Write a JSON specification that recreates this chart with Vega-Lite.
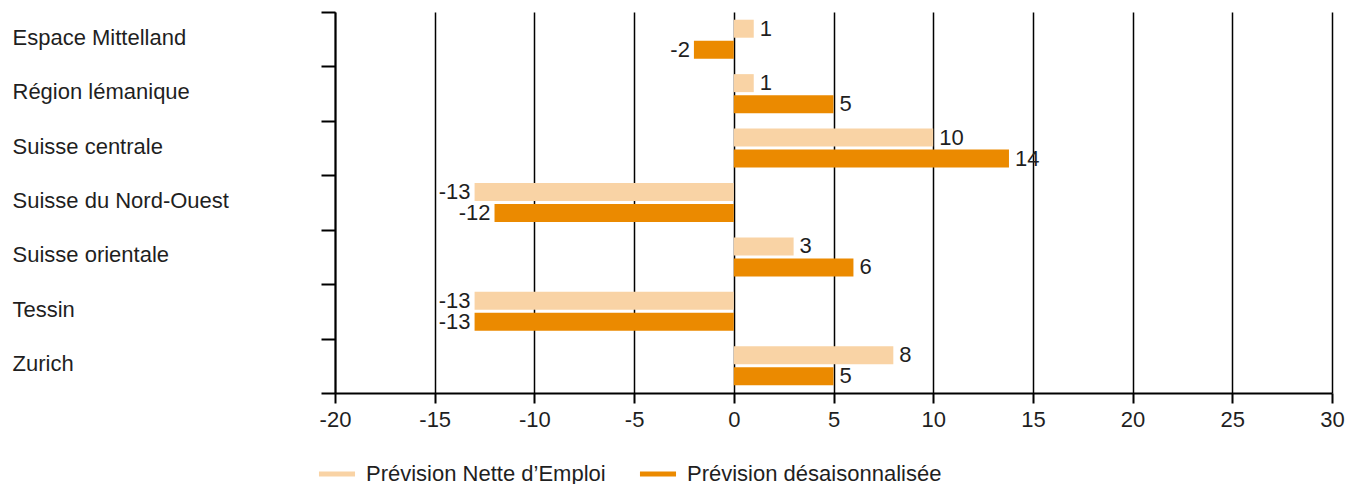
{
  "$schema": "https://vega.github.io/schema/vega-lite/v6.json",
  "width": 997,
  "height": 381,
  "autosize": {"type": "none"},
  "padding": {"left": 335, "top": 12, "right": 16, "bottom": 91},
  "background": "white",
  "config": {
    "font": "Liberation Sans",
    "view": {"stroke": null}
  },
  "data": {
    "values": [
      {"region": "Espace Mittelland", "series": "Prévision Nette d’Emploi", "value": 1, "label": "1"},
      {"region": "Espace Mittelland", "series": "Prévision désaisonnalisée", "value": -2, "label": "-2"},
      {"region": "Région lémanique", "series": "Prévision Nette d’Emploi", "value": 1, "label": "1"},
      {"region": "Région lémanique", "series": "Prévision désaisonnalisée", "value": 5, "label": "5"},
      {"region": "Suisse centrale", "series": "Prévision Nette d’Emploi", "value": 10, "label": "10"},
      {"region": "Suisse centrale", "series": "Prévision désaisonnalisée", "value": 13.8, "label": "14"},
      {"region": "Suisse du Nord-Ouest", "series": "Prévision Nette d’Emploi", "value": -13, "label": "-13"},
      {"region": "Suisse du Nord-Ouest", "series": "Prévision désaisonnalisée", "value": -12, "label": "-12"},
      {"region": "Suisse orientale", "series": "Prévision Nette d’Emploi", "value": 3, "label": "3"},
      {"region": "Suisse orientale", "series": "Prévision désaisonnalisée", "value": 6, "label": "6"},
      {"region": "Tessin", "series": "Prévision Nette d’Emploi", "value": -13, "label": "-13"},
      {"region": "Tessin", "series": "Prévision désaisonnalisée", "value": -13, "label": "-13"},
      {"region": "Zurich", "series": "Prévision Nette d’Emploi", "value": 8, "label": "8"},
      {"region": "Zurich", "series": "Prévision désaisonnalisée", "value": 5, "label": "5"}
    ]
  },
  "encoding": {
    "y": {
      "field": "region",
      "type": "nominal",
      "sort": null,
      "scale": {"paddingInner": 0, "paddingOuter": 0},
      "axis": {
        "title": null,
        "tickBand": "extent",
        "tickSize": 14,
        "tickWidth": 2,
        "tickColor": "black",
        "domainColor": "black",
        "domainWidth": 2,
        "labelAlign": "left",
        "labelPadding": 309,
        "labelOffset": -2,
        "labelFontSize": 22,
        "labelColor": "#1f1f1f",
        "labelLimit": 320
      }
    },
    "yOffset": {
      "field": "series",
      "type": "nominal",
      "sort": ["Prévision Nette d’Emploi", "Prévision désaisonnalisée"],
      "scale": {"paddingInner": 0.143, "paddingOuter": 0.367}
    },
    "x": {
      "field": "value",
      "type": "quantitative",
      "scale": {"domain": [-20, 30], "nice": false, "zero": false},
      "axis": {
        "title": null,
        "values": [-20, -15, -10, -5, 0, 5, 10, 15, 20, 25, 30],
        "labelExpr": "toString(datum.value)",
        "grid": true,
        "gridColor": "black",
        "gridWidth": 1.5,
        "gridOpacity": 1,
        "tickSize": 10,
        "tickWidth": 2,
        "tickColor": "black",
        "domainColor": "black",
        "domainWidth": 2,
        "labelPadding": 6,
        "labelFontSize": 22,
        "labelColor": "#1f1f1f",
        "labelFlush": false
      }
    }
  },
  "layer": [
    {
      "mark": {"type": "bar", "strokeWidth": 0},
      "encoding": {
        "color": {
          "field": "series",
          "type": "nominal",
          "scale": {
            "domain": ["Prévision Nette d’Emploi", "Prévision désaisonnalisée"],
            "range": ["#F9D3A5", "#EB8A00"]
          },
          "legend": {
            "title": null,
            "orient": "none",
            "legendX": -19,
            "legendY": 441,
            "direction": "horizontal",
            "symbolType": "stroke",
            "symbolSize": 1300,
            "symbolStrokeWidth": 5,
            "labelFontSize": 22,
            "labelColor": "#1f1f1f",
            "labelOffset": 8,
            "columnPadding": 23,
            "labelLimit": 400
          }
        },
        "stroke": {
          "field": "series",
          "type": "nominal",
          "scale": {
            "domain": ["Prévision Nette d’Emploi", "Prévision désaisonnalisée"],
            "range": ["#F9D3A5", "#EB8A00"]
          },
          "legend": {
            "title": null,
            "orient": "none",
            "legendX": -19,
            "legendY": 441,
            "direction": "horizontal",
            "symbolType": "stroke",
            "symbolSize": 1300,
            "symbolStrokeWidth": 5,
            "labelFontSize": 22,
            "labelColor": "#1f1f1f",
            "labelOffset": 8,
            "columnPadding": 23,
            "labelLimit": 400
          }
        }
      }
    },
    {
      "transform": [{"filter": "datum.value >= 0"}],
      "mark": {"type": "text", "align": "left", "baseline": "middle", "dx": 6, "fontSize": 22, "color": "#1f1f1f"},
      "encoding": {"text": {"field": "label"}}
    },
    {
      "transform": [{"filter": "datum.value < 0"}],
      "mark": {"type": "text", "align": "right", "baseline": "middle", "dx": -4, "fontSize": 22, "color": "#1f1f1f"},
      "encoding": {"text": {"field": "label"}}
    }
  ]
}
